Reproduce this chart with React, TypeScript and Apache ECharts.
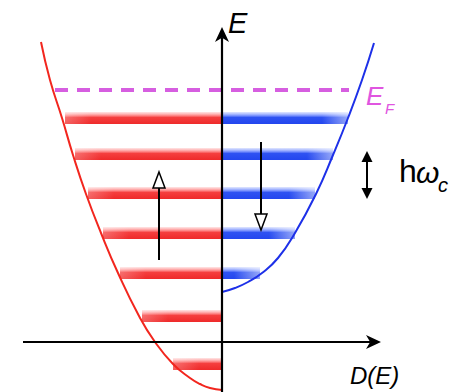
import React, { useEffect, useRef } from "react";
import * as echarts from "echarts";

// Landau levels (energy E, density-of-states edge D)
const redLevelE = [11.2, 9.4, 7.45, 5.45, 3.45, 1.3, -1.1];
const redLevelD = [-7.85, -7.35, -6.7, -5.95, -5.1, -4.0, -2.45];
const blueLevelE = [11.2, 9.4, 7.45, 5.45, 3.45];
const blueLevelD = [6.3, 5.55, 4.65, 3.65, 1.9];

// density of states curves
const redCurveD = [-9.05, -8.6, -8.0, -7.45, -6.8, -6.05, -5.2, -4.15, -3.35, -2.45, -1.6, -1.1, -0.6, 0];
const redCurveE = [15.0, 13.1, 11.2, 9.35, 7.4, 5.45, 3.45, 1.3, 0, -1.1, -1.8, -2.1, -2.3, -2.4];
const blueCurveD = [7.6, 7.0, 6.3, 5.55, 4.7, 3.65, 2.8, 2.0, 1.3, 0.65, 0];
const blueCurveE = [14.95, 13.1, 11.2, 9.35, 7.4, 5.45, 4.2, 3.45, 3.0, 2.7, 2.5];

// Fermi level
const fermiE = 12.6;
const fermiD = [-8.35, 6.35];

// axes extents
const axisD = [-9.95, 7.95];
const axisE = [-2.5, 15.75];

// spin arrows: [D, from E, to E]
const spinUp = [-3.15, 4.1, 8.5];
const spinDown = [1.95, 10.0, 5.6];
const gapArrow = [7.25, 7.15, 9.55];

const FONT = "'Liberation Sans', Arial, Helvetica, sans-serif";

type ArrowOpts = {
  headLen: number;
  headW: number;
  hollow?: boolean;
  double?: boolean;
  concave?: boolean;
  lineWidth: number;
};

function headPoints(t: number[], u: number[], o: ArrowOpts) {
  const n = [-u[1], u[0]];
  const b = [t[0] - u[0] * o.headLen, t[1] - u[1] * o.headLen];
  const back = o.concave
    ? [t[0] - u[0] * o.headLen * 0.72, t[1] - u[1] * o.headLen * 0.72]
    : b;
  return {
    pts: [
      t,
      [b[0] + (n[0] * o.headW) / 2, b[1] + (n[1] * o.headW) / 2],
      back,
      [b[0] - (n[0] * o.headW) / 2, b[1] - (n[1] * o.headW) / 2],
    ],
    base: o.hollow ? b : back,
  };
}

function arrowRenderer(o: ArrowOpts) {
  return (params: any, api: any) => {
    const p0 = api.coord([api.value(0), api.value(1)]);
    const p1 = api.coord([api.value(2), api.value(3)]);
    const dx = p1[0] - p0[0];
    const dy = p1[1] - p0[1];
    const len = Math.sqrt(dx * dx + dy * dy) || 1;
    const u = [dx / len, dy / len];
    const h1 = headPoints(p1, u, o);
    let start = p0;
    const children: any[] = [];
    if (o.double) {
      const h0 = headPoints(p0, [-u[0], -u[1]], o);
      start = h0.base;
      children.push({
        type: "polygon",
        shape: { points: h0.pts },
        style: o.hollow
          ? { fill: "#fff", stroke: "#000", lineWidth: 1.5 }
          : { fill: "#000" },
      });
    }
    children.unshift({
      type: "line",
      shape: { x1: start[0], y1: start[1], x2: h1.base[0], y2: h1.base[1] },
      style: { stroke: "#000", lineWidth: o.lineWidth },
    });
    children.push({
      type: "polygon",
      shape: { points: h1.pts },
      style: o.hollow
        ? { fill: "#fff", stroke: "#000", lineWidth: 1.5 }
        : { fill: "#000" },
    });
    return { type: "group", children };
  };
}

function levelRenderer(stops: any[], fadeSide: "left" | "right", fadeAlpha: number) {
  return (params: any, api: any) => {
    const e = api.value(0);
    const d = api.value(1);
    const a = api.coord([Math.min(0, d), e + 0.3]);
    const b = api.coord([Math.max(0, d), e - 0.3]);
    const x = a[0];
    const y = a[1];
    const w = b[0] - a[0];
    const h = b[1] - a[1];
    const fadeW = Math.min(26, w);
    const fadeX = fadeSide === "left" ? x : x + w - fadeW;
    return {
      type: "group",
      children: [
        {
          type: "rect",
          shape: { x, y, width: w, height: h },
          style: { fill: new echarts.graphic.LinearGradient(0, 0, 0, 1, stops) },
        },
        {
          type: "rect",
          shape: { x: fadeX, y, width: fadeW, height: h },
          style: {
            fill: new echarts.graphic.LinearGradient(
              fadeSide === "left" ? 1 : 0,
              0,
              fadeSide === "left" ? 0 : 1,
              0,
              [
                { offset: 0, color: "rgba(255,255,255,0)" },
                { offset: 1, color: `rgba(255,255,255,${fadeAlpha})` },
              ]
            ),
          },
        },
      ],
    };
  };
}

const redStops = [
  { offset: 0, color: "rgba(255,150,150,0.25)" },
  { offset: 0.25, color: "rgba(255,110,110,0.7)" },
  { offset: 0.45, color: "#f53f3f" },
  { offset: 1, color: "#ee2a2a" },
];
const blueStops = [
  { offset: 0, color: "rgba(130,155,255,0.25)" },
  { offset: 0.25, color: "rgba(95,125,255,0.7)" },
  { offset: 0.45, color: "#2e52f2" },
  { offset: 1, color: "#2346ee" },
];

export default function App() {
  const ref = useRef<HTMLDivElement>(null);
  useEffect(() => {
    if (!ref.current) return;
    const chart = echarts.init(ref.current, undefined, { renderer: "svg" });
    const option: any = {
      animation: false,
      grid: { left: 0, right: 0, top: 0, bottom: 0 },
      xAxis: { type: "value", min: -11.1, max: 12.3, show: false },
      yAxis: { type: "value", min: -2.5, max: 17.1, show: false },
      series: [
        {
          type: "custom",
          name: "spin-up levels",
          renderItem: levelRenderer(redStops, "left", 0.25),
          data: redLevelE.map((e, i) => [e, redLevelD[i]]),
          encode: { y: 0, x: 1 },
          z: 1,
        },
        {
          type: "custom",
          name: "spin-down levels",
          renderItem: levelRenderer(blueStops, "right", 0.5),
          data: blueLevelE.map((e, i) => [e, blueLevelD[i]]),
          encode: { y: 0, x: 1 },
          z: 1,
        },
        {
          type: "line",
          name: "fermi",
          data: fermiD.map((d) => [d, fermiE]),
          showSymbol: false,
          lineStyle: { color: "#d65ee0", width: 4, type: [13, 9] },
          z: 2,
        },
        {
          type: "line",
          name: "spin-up DOS",
          data: redCurveD.map((d, i) => [d, redCurveE[i]]),
          smooth: 0.5,
          showSymbol: false,
          lineStyle: { color: "#f2261e", width: 2 },
          z: 3,
        },
        {
          type: "line",
          name: "spin-down DOS",
          data: blueCurveD.map((d, i) => [d, blueCurveE[i]]),
          smooth: 0.5,
          showSymbol: false,
          lineStyle: { color: "#1d30e8", width: 2 },
          z: 3,
        },
        {
          type: "custom",
          name: "axes",
          renderItem: arrowRenderer({ headLen: 15, headW: 14, concave: true, lineWidth: 2.2 }),
          data: [
            [axisD[0], 0, axisD[1], 0],
            [0, axisE[0], 0, axisE[1]],
          ],
          encode: { x: [0, 2], y: [1, 3] },
          z: 5,
        },
        {
          type: "custom",
          name: "spin arrows",
          renderItem: arrowRenderer({ headLen: 16, headW: 12, hollow: true, lineWidth: 2 }),
          data: [
            [spinUp[0], spinUp[1], spinUp[0], spinUp[2]],
            [spinDown[0], spinDown[1], spinDown[0], spinDown[2]],
          ],
          encode: { x: [0, 2], y: [1, 3] },
          z: 5,
        },
        {
          type: "custom",
          name: "gap arrow",
          renderItem: arrowRenderer({ headLen: 11, headW: 11, double: true, lineWidth: 2 }),
          data: [[gapArrow[0], gapArrow[1], gapArrow[0], gapArrow[2]]],
          encode: { x: [0, 2], y: [1, 3] },
          z: 5,
        },
      ],
      graphic: [
        {
          type: "text",
          x: 228,
          y: 23,
          style: { text: "E", font: `italic 29px ${FONT}`, fill: "#000", verticalAlign: "middle", align: "left" },
        },
        {
          type: "text",
          x: 350,
          y: 375,
          style: { text: "D(E)", font: `italic 24px ${FONT}`, fill: "#000", verticalAlign: "middle", align: "left" },
        },
        {
          type: "text",
          x: 366,
          y: 96,
          style: { text: "E", font: `italic 26px ${FONT}`, fill: "#e055e0", verticalAlign: "middle", align: "left" },
        },
        {
          type: "text",
          x: 385,
          y: 108,
          style: { text: "F", font: `italic 15px ${FONT}`, fill: "#e055e0", verticalAlign: "middle", align: "left" },
        },
        {
          type: "text",
          x: 399,
          y: 171,
          style: { text: "h", font: `32px ${FONT}`, fill: "#000", verticalAlign: "middle", align: "left" },
        },
        {
          type: "text",
          x: 416,
          y: 172,
          style: { text: "ω", font: `italic 30px ${FONT}`, fill: "#000", verticalAlign: "middle", align: "left" },
        },
        {
          type: "text",
          x: 438,
          y: 185,
          style: { text: "c", font: `italic 20px ${FONT}`, fill: "#000", verticalAlign: "middle", align: "left" },
        },
      ],
    };
    chart.setOption(option);
    return () => chart.dispose();
  }, []);
  return (
    <div
      ref={ref}
      style={{ position: "absolute", left: 0, top: 0, width: 468, height: 392, background: "#fff" }}
    />
  );
}
